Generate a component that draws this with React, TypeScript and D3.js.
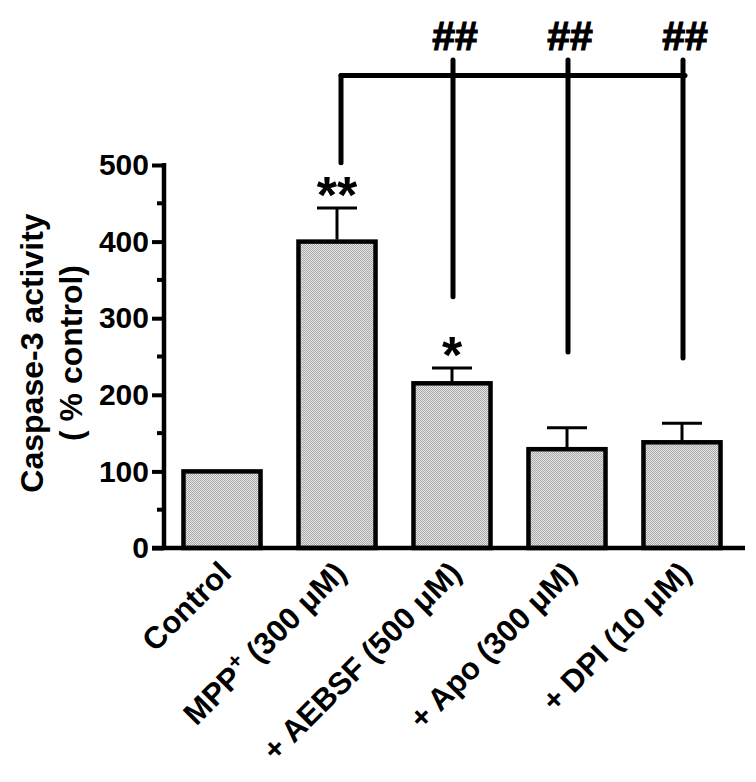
import React, { useEffect, useRef } from 'react';
import * as d3 from 'd3';

// data
const categories = ['Control', 'MPP+ (300 μM)', '+ AEBSF (500 μM)', '+ Apo (300 μM)', '+ DPI (10 μM)'];
const means = [100, 400, 215, 129, 138];
const sems = [0, 44, 20, 28, 25];
const stars = ['', '**', '*', '', ''];
const yTicks = [0, 100, 200, 300, 400, 500];
const yMinorTicks = [50, 150, 250, 350, 450];

// comparison bracket (MPP+ vs. each treatment), in data units
const bracketFrom = 1;
const bracketTo = [2, 3, 4];
const bracketLevel = 617;
const bracketTop = 637;
const bracketStart = 503;
const bracketEnds = [328, 256, 248];
const bracketMark = '##';

const W = 756;
const H = 782;
const FONT = 'Liberation Sans, Arial, sans-serif';

export default function App() {
  const ref = useRef<SVGSVGElement>(null);

  useEffect(() => {
    const svg = d3.select(ref.current);
    svg.selectAll('*').remove();

    const x = d3
      .scaleBand()
      .domain(categories)
      .range([164.5, 739.5])
      .paddingInner(0.33)
      .paddingOuter(0.165);
    const y = d3.scaleLinear().domain([0, 500]).range([548, 165]);
    const cx = (i: number) => (x(categories[i]) as number) + x.bandwidth() / 2;

    // stipple fill like the original print
    const defs = svg.append('defs');
    const pat = defs
      .append('pattern')
      .attr('id', 'stipple')
      .attr('width', 2)
      .attr('height', 2)
      .attr('patternUnits', 'userSpaceOnUse');
    pat.append('rect').attr('width', 2).attr('height', 2).attr('fill', '#e6e6e6');
    pat.append('rect').attr('x', 0).attr('y', 0).attr('width', 1).attr('height', 1).attr('fill', '#a8a8a8');
    pat.append('rect').attr('x', 1).attr('y', 1).attr('width', 1).attr('height', 1).attr('fill', '#a8a8a8');

    // bars
    svg
      .append('g')
      .selectAll('rect')
      .data(means)
      .enter()
      .append('rect')
      .attr('x', (d, i) => x(categories[i]) as number)
      .attr('y', d => y(d))
      .attr('width', x.bandwidth())
      .attr('height', d => y(0) - y(d))
      .attr('fill', 'url(#stipple)')
      .attr('stroke', '#000')
      .attr('stroke-width', 4.5);

    // error bars (upper only)
    const eb = svg.append('g').attr('stroke', '#000').attr('stroke-width', 3);
    means.forEach((m, i) => {
      if (!sems[i]) return;
      const top = y(m + sems[i]);
      eb.append('line').attr('x1', cx(i)).attr('x2', cx(i)).attr('y1', y(m) - 2).attr('y2', top);
      eb.append('line').attr('x1', cx(i) - 20).attr('x2', cx(i) + 20).attr('y1', top).attr('y2', top);
    });

    // significance stars
    svg
      .append('g')
      .selectAll('text')
      .data(stars)
      .enter()
      .append('text')
      .attr('x', (d, i) => cx(i))
      .attr('y', (d, i) => y(means[i] + sems[i]) + 5)
      .attr('text-anchor', 'middle')
      .style('font-family', FONT)
      .style('font-weight', 'bold')
      .style('font-size', '52px')
      .text(d => d);

    // y axis
    const yAxis = svg.append('g').attr('transform', 'translate(164,0)');
    yAxis
      .call(
        d3
          .axisLeft(y)
          .tickValues(yTicks)
          .tickSize(12)
          .tickPadding(3)
          .tickFormat(d3.format('d'))
      )
      .call(g => g.select('.domain').remove());
    yAxis.selectAll('line').attr('stroke', '#000').attr('stroke-width', 4);
    yAxis
      .selectAll('text')
      .attr('fill', '#000')
      .style('font-family', FONT)
      .style('font-weight', 'bold')
      .style('font-size', '30px');
    yAxis
      .append('g')
      .selectAll('line')
      .data(yMinorTicks)
      .enter()
      .append('line')
      .attr('x1', -7)
      .attr('x2', 0)
      .attr('y1', d => y(d))
      .attr('y2', d => y(d))
      .attr('stroke', '#000')
      .attr('stroke-width', 4);
    svg
      .append('line')
      .attr('x1', 164)
      .attr('x2', 164)
      .attr('y1', y(500) - 2)
      .attr('y2', y(0) + 2)
      .attr('stroke', '#000')
      .attr('stroke-width', 4.5);

    // x axis line
    svg
      .append('line')
      .attr('x1', 152)
      .attr('x2', 745)
      .attr('y1', y(0))
      .attr('y2', y(0))
      .attr('stroke', '#000')
      .attr('stroke-width', 4.5);

    // category labels, rotated
    const xl = svg
      .append('g')
      .selectAll('text')
      .data(categories)
      .enter()
      .append('text')
      .attr('transform', (d, i) => 'translate(' + (cx(i) + 11) + ',575) rotate(-45)')
      .attr('text-anchor', 'end')
      .style('font-family', FONT)
      .style('font-weight', 'bold')
      .style('font-size', '31px');
    xl.each(function (d) {
      const t = d3.select(this);
      if (d.startsWith('MPP+')) {
        t.append('tspan').text('MPP');
        t.append('tspan').attr('baseline-shift', 'super').style('font-size', '22px').text('+');
        t.append('tspan').text(d.slice(4));
      } else {
        t.text(d);
      }
    });

    // y title
    const title = svg
      .append('text')
      .attr('transform', 'translate(0,353) rotate(-90)')
      .attr('text-anchor', 'middle')
      .style('font-family', FONT)
      .style('font-weight', 'bold')
      .style('font-size', '32px');
    title.append('tspan').attr('x', 0).attr('y', 43).text('Caspase-3 activity');
    title.append('tspan').attr('x', 0).attr('y', 82).text('( % control)');

    // bracket
    const br = svg
      .append('g')
      .attr('stroke', '#000')
      .attr('stroke-width', 5)
      .attr('stroke-linecap', 'round');
    const x0 = cx(bracketFrom) + 4;
    const x1 = cx(bracketTo[bracketTo.length - 1]) + 3;
    br.append('line').attr('x1', x0).attr('x2', x0).attr('y1', y(bracketStart)).attr('y2', y(bracketLevel));
    br.append('line').attr('x1', x0).attr('x2', x1).attr('y1', y(bracketLevel)).attr('y2', y(bracketLevel));
    bracketTo.forEach((b, k) => {
      const bx = cx(b) + 1;
      br.append('line').attr('x1', bx).attr('x2', bx).attr('y1', y(bracketTop)).attr('y2', y(bracketEnds[k]));
      svg
        .append('text')
        .attr('x', bx + 2)
        .attr('y', 50)
        .attr('text-anchor', 'middle')
        .attr('stroke', '#000')
        .attr('stroke-width', 1.2)
        .style('font-family', FONT)
        .style('font-weight', 'bold')
        .style('font-size', '41px')
        .text(bracketMark);
    });
  }, []);

  return (
    <svg
      ref={ref}
      width={W}
      height={H}
      style={{ position: 'absolute', left: 0, top: 0, background: '#fff' }}
    />
  );
}
